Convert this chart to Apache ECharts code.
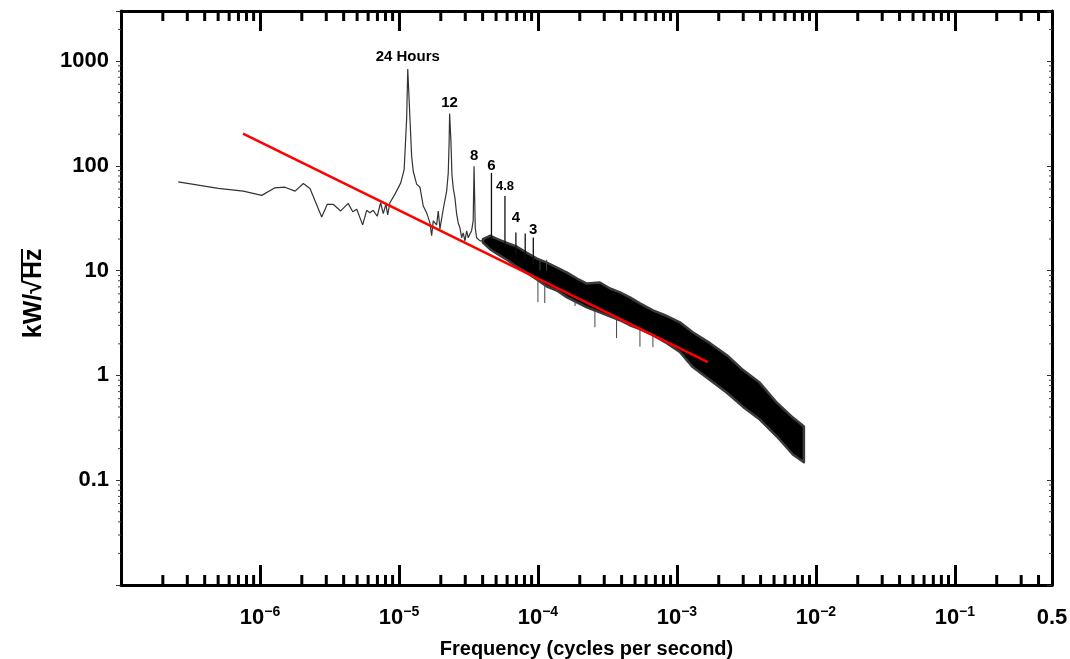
<!DOCTYPE html>
<html>
<head>
<meta charset="utf-8">
<script src="https://cdn.jsdelivr.net/npm/echarts@6/dist/echarts.min.js"></script>
<style>
html, body { margin: 0; padding: 0; background: #fff; }
#chart { width: 1070px; height: 659px; }
</style>
</head>
<body>
<div id="chart"></div>
<script>
// spectrum below ~4e-5 Hz, drawn as a thin line (Hz, kW/sqrt(Hz))
var lineFreq = [2.58e-7, 5.01e-7, 7.59e-7, 1.03e-6, 1.28e-6, 1.51e-6, 1.79e-6, 2.05e-6, 2.29e-6, 2.78e-6,
    3.05e-6, 3.36e-6, 3.81e-6, 4.31e-6, 4.65e-6, 4.97e-6, 5.48e-6, 5.86e-6, 6.18e-6, 6.53e-6,
    6.98e-6, 7.38e-6, 7.71e-6, 8.05e-6, 8.30e-6, 8.61e-6, 9.36e-6, 1.03e-5, 1.09e-5, 1.136e-5,
    1.157e-5, 1.20e-5, 1.234e-5, 1.267e-5, 1.34e-5, 1.416e-5, 1.496e-5, 1.583e-5, 1.671e-5, 1.719e-5,
    1.765e-5, 1.867e-5, 1.917e-5, 1.972e-5, 2.084e-5, 2.204e-5, 2.263e-5, 2.297e-5, 2.315e-5, 2.366e-5,
    2.405e-5, 2.458e-5, 2.53e-5, 2.60e-5, 2.67e-5, 2.747e-5, 2.826e-5, 2.90e-5, 2.984e-5, 3.07e-5,
    3.15e-5, 3.24e-5, 3.33e-5, 3.42e-5, 3.47e-5, 3.54e-5, 3.62e-5, 3.83e-5, 4.02e-5];
var lineVal = [70.2, 60.8, 57.3, 52.2, 61.6, 62.5, 57.3, 67.8, 60.8, 32.5,
    42.9, 42.9, 37.1, 43.8, 36.5, 38.5, 27.3, 37.6, 35.7, 37.6,
    33.0, 44.4, 34.9, 42.9, 34.0, 44.4, 53.7, 68.7, 92.0, 282,
    840, 282, 123, 88.7, 66.8, 62.5, 41.3, 35.5, 28.5, 21.5,
    29.8, 27.3, 37.0, 25.0, 38.7, 57.3, 84.9, 171, 315, 171,
    83.1, 61.2, 49.2, 34.7, 28.5, 25.6, 20.6, 22.9, 19.2, 23.9,
    20.6, 22.4, 23.9, 29.8, 98.9, 25.6, 20.6, 19.2, 19.2];

// dense noisy part: upper and lower edge of the black band
var bandFreq = [4.02e-5, 4.52e-5, 5.07e-5, 5.98e-5, 7.06e-5, 8.33e-5, 9.83e-5, 1.16e-4, 1.37e-4, 1.62e-4,
    1.91e-4, 2.25e-4, 2.79e-4, 3.30e-4, 3.89e-4, 4.59e-4, 5.42e-4, 6.72e-4, 8.20e-4, 1.05e-3,
    1.30e-3, 1.73e-3, 2.29e-3, 2.98e-3, 3.95e-3, 5.24e-3, 6.83e-3, 8.20e-3];
var bandHigh = [20.0, 21.5, 20.1, 18.4, 16.9, 14.8, 13.0, 11.9, 10.7, 9.57,
    8.40, 7.53, 7.70, 6.75, 6.19, 5.55, 4.87, 4.18, 3.75, 3.21,
    2.58, 2.03, 1.56, 1.13, 0.849, 0.549, 0.396, 0.325];
var bandLow = [18.5, 16.0, 14.5, 12.7, 10.9, 9.57, 8.22, 7.05, 6.46, 5.55,
    4.97, 4.46, 4.00, 3.66, 3.36, 3.01, 2.76, 2.42, 2.08, 1.67,
    1.20, 0.906, 0.683, 0.503, 0.379, 0.261, 0.176, 0.148];

// harmonics poking out of the band
var spikeFreq = [4.63e-5, 5.79e-5, 6.94e-5, 8.10e-5, 9.26e-5];
var spikeBase = [20, 17, 14, 12.5, 11.5];
var spikeTop = [85.5, 51.4, 23.1, 22.6, 20.7];

// loose single spikes on the band edges
var fringeFreq = [1.00e-4, 1.034e-4, 1.12e-4, 1.155e-4, 1.85e-4, 2.57e-4, 3.68e-4, 5.42e-4, 6.72e-4];
var fringeFrom = [8.2, 10.0, 7.4, 10.0, 5.2, 4.2, 3.45, 2.76, 2.42];
var fringeTo = [5.0, 12.7, 4.9, 12.7, 4.6, 2.88, 2.27, 1.88, 1.86];

// peak annotations
var peakNames = ['24 Hours', '12', '8', '6', '4.8', '4', '3'];
var peakFreq = [1.157e-5, 2.315e-5, 3.47e-5, 4.63e-5, 5.79e-5, 6.94e-5, 9.26e-5];
var peakVal = [840, 315, 98.9, 85.5, 51.4, 23.1, 20.7];

// red fitted line
var fitFreq = [7.55e-7, 1.67e-3];
var fitVal = [203, 1.34];

// ticks
var xDecades = [1e-7, 1e-6, 1e-5, 1e-4, 1e-3, 1e-2, 1e-1];
var yDecades = [0.01, 0.1, 1, 10, 100, 1000];
var minorSteps = [2, 3, 4, 5, 6, 7, 8, 9];
var xMax = 0.5, yMax = 3000;

var FONT = '"Liberation Sans", Arial, sans-serif';
var labelGap = [5, 3, 3, 0, 3, 7, 0];

var xMinor = [], yMinor = [];
xDecades.forEach(function (d) {
    minorSteps.forEach(function (m) { if (d * m < xMax) xMinor.push(d * m); });
});
yDecades.forEach(function (d) {
    minorSteps.forEach(function (m) { if (d * m < yMax) yMinor.push(d * m); });
});

function pairs(xs, ys) {
    return xs.map(function (x, i) { return [x, ys[i]]; });
}

function expOf(v) { return Math.round(Math.log(v) / Math.LN10); }
function isDecade(v) { return Math.abs(Math.log(v) / Math.LN10 - expOf(v)) < 0.01; }

function segmentSeries(xs, from, to, color, width) {
    return {
        type: 'custom', silent: true,
        encode: { x: 0, y: [1, 2] },
        data: xs.map(function (f, i) { return [f, from[i], to[i]]; }),
        renderItem: function (params, api) {
            var a = api.coord([api.value(0), api.value(1)]);
            var b = api.coord([api.value(0), api.value(2)]);
            return { type: 'line', shape: { x1: a[0], y1: a[1], x2: b[0], y2: b[1] }, style: { stroke: color, lineWidth: width } };
        }
    };
}

var chart = echarts.init(document.getElementById('chart'));

var xBase = {
    type: 'log', logBase: 10, min: 1e-7, max: xMax, interval: 1,
    splitLine: { show: false },
    axisLine: { lineStyle: { color: '#000', width: 3 } },
    axisTick: { inside: true, length: 20, lineStyle: { color: '#000', width: 3 } }
};
var yBase = {
    type: 'log', logBase: 10, min: 0.01, max: yMax, interval: 1,
    splitLine: { show: false },
    axisLine: { lineStyle: { color: '#000', width: 3 } }
};

chart.setOption({
    animation: false,
    backgroundColor: '#fff',
    grid: { left: 121, right: 18, top: 11, bottom: 74, containLabel: false, outerBoundsMode: 'none' },
    xAxis: [
        Object.assign({}, xBase, {
            position: 'bottom',
            name: 'Frequency (cycles per second)',
            nameLocation: 'middle',
            nameGap: 54,
            nameTextStyle: { color: '#000', fontSize: 20, fontWeight: 'bold', fontFamily: FONT },
            axisLabel: {
                margin: 20,
                formatter: function (v) {
                    if (Math.abs(v - 0.5) < 1e-6) return '{n|0.5}';
                    if (!isDecade(v)) return '';
                    var e = expOf(v);
                    if (e <= -7) return '';
                    return '{n|10}{s|\u2212' + (-e) + '}';
                },
                rich: {
                    n: { fontSize: 22, fontWeight: 'bold', fontFamily: FONT, color: '#000', lineHeight: 26 },
                    s: { fontSize: 14, fontWeight: 'bold', fontFamily: FONT, color: '#000', verticalAlign: 'top', lineHeight: 14 }
                }
            }
        }),
        Object.assign({}, xBase, { position: 'top', axisLabel: { show: false } })
    ],
    yAxis: [
        Object.assign({}, yBase, {
            position: 'left',
            axisTick: { inside: false, length: 5, lineStyle: { color: '#333', width: 1 } },
            axisLabel: {
                margin: 12,
                color: '#000', fontSize: 22, fontWeight: 'bold', fontFamily: FONT,
                formatter: function (v) {
                    if (!isDecade(v)) return '';
                    var e = expOf(v);
                    if (e < -1) return '';
                    return e >= 0 ? String(Math.pow(10, e)) : '0.1';
                }
            }
        }),
        Object.assign({}, yBase, {
            position: 'right',
            axisTick: { inside: true, length: 5, lineStyle: { color: '#333', width: 1 } },
            axisLabel: { show: false }
        })
    ],
    graphic: [{
        type: 'group', x: 34, y: 280, rotation: Math.PI / 2,
        children: [
            { type: 'text', x: 0, y: 0, style: { text: 'kW/\u221A', font: 'bold 25px ' + FONT, fill: '#000', align: 'right', verticalAlign: 'middle' } },
            { type: 'text', x: 1, y: 0, style: { text: 'Hz', font: 'bold 25px ' + FONT, fill: '#000', align: 'left', verticalAlign: 'middle' } },
            { type: 'line', shape: { x1: -1, y1: -12, x2: 31, y2: -12 }, style: { stroke: '#000', lineWidth: 2 } }
        ]
    }],
    series: [
        {
            // x minor ticks, bottom and top
            type: 'custom', silent: true, clip: false, z: 5,
            data: xMinor.map(function (v) { return [v, 1]; }),
            renderItem: function (params, api) {
                var p = api.coord([api.value(0), 1]);
                var cs = params.coordSys;
                var b = cs.y + cs.height;
                return {
                    type: 'group', children: [
                        { type: 'line', shape: { x1: p[0], y1: b, x2: p[0], y2: b - 10 }, style: { stroke: '#000', lineWidth: 3 } },
                        { type: 'line', shape: { x1: p[0], y1: cs.y, x2: p[0], y2: cs.y + 10 }, style: { stroke: '#000', lineWidth: 3 } }
                    ]
                };
            }
        },
        {
            // y minor ticks, left (outside) and right (inside)
            type: 'custom', silent: true, clip: false, z: 5,
            data: yMinor.map(function (v) { return [1e-3, v]; }),
            renderItem: function (params, api) {
                var p = api.coord([1e-3, api.value(1)]);
                var cs = params.coordSys;
                var r = cs.x + cs.width;
                return {
                    type: 'group', children: [
                        { type: 'line', shape: { x1: cs.x - 3, y1: p[1], x2: cs.x, y2: p[1] }, style: { stroke: '#444', lineWidth: 1 } },
                        { type: 'line', shape: { x1: r - 3, y1: p[1], x2: r, y2: p[1] }, style: { stroke: '#444', lineWidth: 1 } }
                    ]
                };
            }
        },
        {
            // dense band
            type: 'custom', silent: true,
            encode: { x: 0, y: [1, 2] },
            data: bandFreq.map(function (f, i) { return [f, bandHigh[i], bandLow[i]]; }),
            renderItem: function (params, api) {
                if (params.dataIndex !== 0) return;
                var pts = [];
                bandFreq.forEach(function (f, i) { pts.push(api.coord([f, bandHigh[i]])); });
                for (var i = bandFreq.length - 1; i >= 0; i--) pts.push(api.coord([bandFreq[i], bandLow[i]]));
                return {
                    type: 'polygon', shape: { points: pts },
                    style: { fill: '#000', stroke: '#3a3a3a', lineWidth: 2.5, lineJoin: 'round' }
                };
            }
        },
        {
            type: 'line', name: 'spectrum', silent: true,
            data: pairs(lineFreq, lineVal),
            showSymbol: false, symbol: 'none',
            lineStyle: { color: '#333', width: 1.2 }
        },
        segmentSeries(spikeFreq, spikeBase, spikeTop, '#111', 1.3),
        segmentSeries(fringeFreq, fringeFrom, fringeTo, '#444', 1),
        {
            type: 'line', name: 'fit', silent: true,
            data: pairs(fitFreq, fitVal),
            symbol: 'none',
            lineStyle: { color: '#ff0000', width: 2.5 },
            z: 4
        },
        {
            type: 'scatter', silent: true, symbolSize: 0,
            itemStyle: { opacity: 1 },
            data: peakFreq.map(function (f, i) {
                return {
                    value: [f, peakVal[i]],
                    label: {
                        formatter: peakNames[i], distance: labelGap[i], color: '#000',
                        fontSize: peakNames[i] === '4.8' ? 13 : 15
                    }
                };
            }),
            label: {
                show: true, position: 'top',
                color: '#000', fontWeight: 'bold', fontFamily: FONT, textBorderWidth: 0
            },
            z: 6
        }
    ]
});
</script>
</body>
</html>
